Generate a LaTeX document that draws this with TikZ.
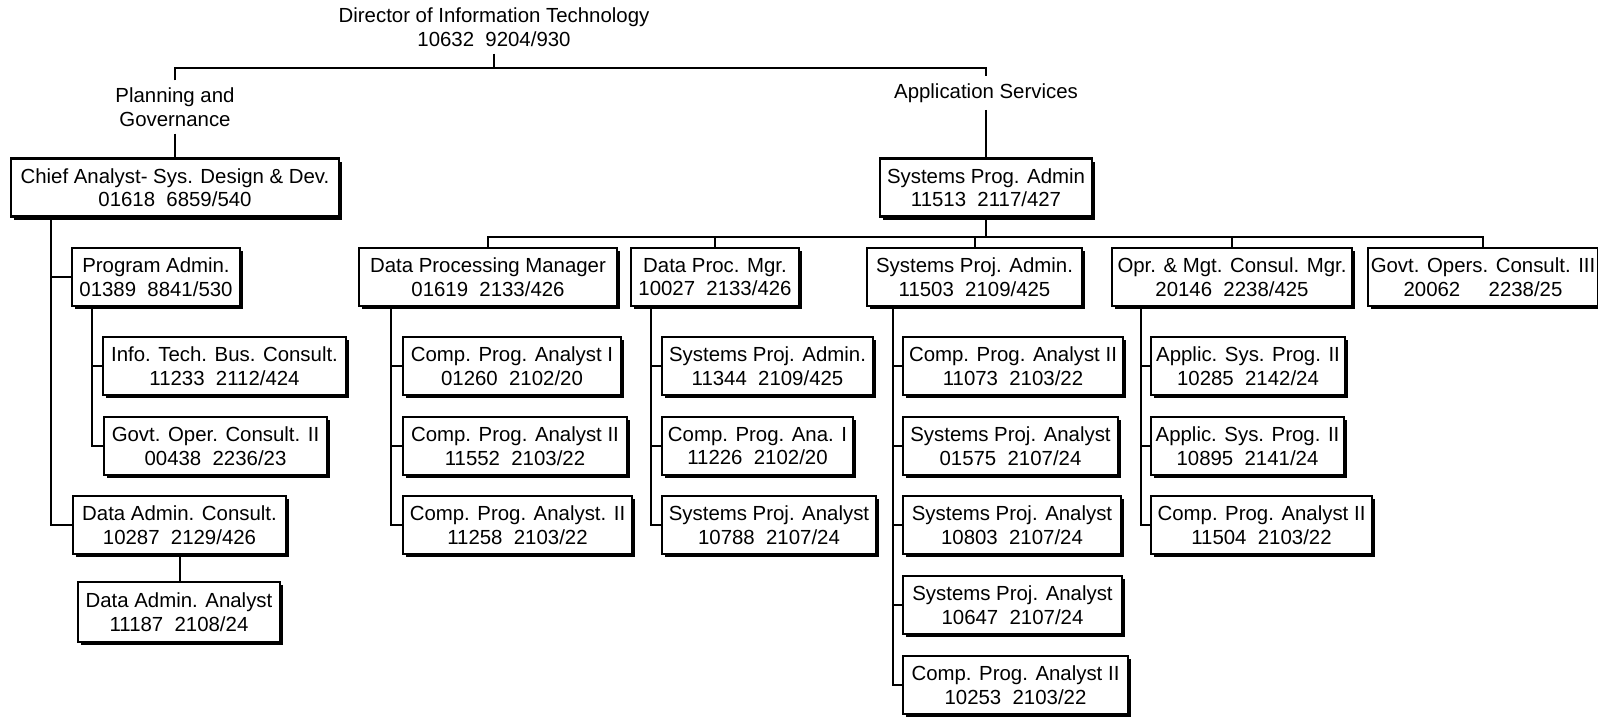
\documentclass[tikz,border=0pt]{standalone}
\usepackage{fontspec}
\setmainfont{Liberation Sans}
\usetikzlibrary{shadows}
\begin{document}
\begin{tikzpicture}[x=0.5pt,y=-0.5pt,
  every node/.style={font=\fontsize{10.2}{11.75}\selectfont, align=center},
  box/.style={draw, line width=1.1pt, fill=white, minimum height=29pt, inner sep=1pt,
    drop shadow={shadow xshift=1.6pt, shadow yshift=-1.6pt, fill=black, opacity=1}},
  lbl/.style={inner sep=3.5pt},
  conn/.style={line width=1pt}]
\useasboundingbox (0,0) rectangle (1598,722);

% top labels
\node[lbl] (dir) at (494,27) {Director of Information Technology\\10632~~9204/930};
\node[lbl] (plan) at (175,107) {Planning and\\Governance};
\node[lbl] (app) at (986,93) {Application Services};

% level 1
\node[box, minimum width=164pt] (chief) at (175,187.5) {Chief Analyst- Sys. Design \& Dev.\\01618~~6859/540};
\node[box, minimum width=106pt] (sysprog) at (986,187.5) {Systems Prog. Admin\\11513~~2117/427};

% level 2
\node[box, minimum width=84pt] (progadm) at (156,277) {Program Admin.\\01389~~8841/530};
\node[box, minimum width=129pt] (dpm) at (488,277) {Data Processing Manager\\01619~~2133/426};
\node[box, minimum width=84pt] (dpmgr) at (715,277) {Data Proc. Mgr.\\10027~~2133/426};
\node[box, minimum width=107.5pt] (spadm) at (974.5,277) {Systems Proj. Admin.\\11503~~2109/425};
\node[box, minimum width=120pt] (opr) at (1232,277) {Opr. \& Mgt. Consul. Mgr.\\20146~~2238/425};
\node[box, minimum width=115pt] (govt) at (1483,277) {Govt. Opers. Consult. III\\20062~~~~~2238/25};

% left column
\node[box, minimum width=121.5pt] (infotech) at (224.5,366) {Info. Tech. Bus. Consult.\\11233~~2112/424};
\node[box, minimum width=111.5pt] (govop) at (215.5,446) {Govt. Oper. Consult. II\\00438~~2236/23};
\node[box, minimum width=106.5pt] (dac) at (179.5,525) {Data Admin. Consult.\\10287~~2129/426};
\node[box, minimum width=101pt, minimum height=30pt] (daa) at (179,612) {Data Admin. Analyst\\11187~~2108/24};

% DPM column
\node[box, minimum width=109pt] (cpa1) at (512,366) {Comp. Prog. Analyst I\\01260~~2102/20};
\node[box, minimum width=112pt] (cpa2) at (515,446) {Comp. Prog. Analyst II\\11552~~2103/22};
\node[box, minimum width=114.5pt] (cpa3) at (517.5,525) {Comp. Prog. Analyst. II\\11258~~2103/22};

% Data Proc Mgr column
\node[box, minimum width=105.5pt] (spadmb) at (767.5,366) {Systems Proj. Admin.\\11344~~2109/425};
\node[box, minimum width=95.5pt] (cpana) at (757.5,446) {Comp. Prog. Ana. I\\11226~~2102/20};
\node[box, minimum width=107pt] (spa) at (769,525) {Systems Proj. Analyst\\10788~~2107/24};

% Systems Proj Admin column
\node[box, minimum width=110pt] (ca) at (1013,366) {Comp. Prog. Analyst II\\11073~~2103/22};
\node[box, minimum width=107.5pt] (sb) at (1010.5,446) {Systems Proj. Analyst\\01575~~2107/24};
\node[box, minimum width=109pt] (sc) at (1012,525) {Systems Proj. Analyst\\10803~~2107/24};
\node[box, minimum width=109.5pt] (sd) at (1012.5,605) {Systems Proj. Analyst\\10647~~2107/24};
\node[box, minimum width=112.5pt] (ce) at (1015.5,685) {Comp. Prog. Analyst II\\10253~~2103/22};

% Opr column
\node[box, minimum width=97pt] (asa) at (1248,366) {Applic. Sys. Prog. II\\10285~~2142/24};
\node[box, minimum width=96.5pt] (asb) at (1247.5,446) {Applic. Sys. Prog. II\\10895~~2141/24};
\node[box, minimum width=110.5pt] (cpc) at (1261.5,525) {Comp. Prog. Analyst II\\11504~~2103/22};

% drop points
\coordinate (bus1) at (0,68);
\coordinate (bus2) at (0,237);
\coordinate (dchief) at ([xshift=20.5pt]chief.south west);
\coordinate (dprog) at ([xshift=10.5pt]progadm.south west);
\coordinate (ddpm) at ([xshift=16.5pt]dpm.south west);
\coordinate (ddpmgr) at ([xshift=10.5pt]dpmgr.south west);
\coordinate (dspadm) at ([xshift=13.5pt]spadm.south west);
\coordinate (dopr) at ([xshift=15pt]opr.south west);

% connectors: top
\draw[conn] (dir.south) -- (dir.south |- bus1);
\draw[conn] (plan.north) -- (plan.north |- bus1) -- (app.north |- bus1) -- (app.north);
\draw[conn] (plan.south) -- (plan.south |- chief.north);
\draw[conn] (app.south) -- (app.south |- sysprog.north);

% level 2 bus
\draw[conn] (sysprog.south) -- (sysprog.south |- bus2);
\draw[conn] (dpm.north) -- (dpm.north |- bus2) -- (govt.north |- bus2) -- (govt.north);
\draw[conn] (dpmgr.north) -- (dpmgr.north |- bus2);
\draw[conn] (spadm.north) -- (spadm.north |- bus2);
\draw[conn] (opr.north) -- (opr.north |- bus2);

% chief
\draw[conn] (dchief) |- (dac.west);
\draw[conn] (progadm.west) -- (progadm.west -| dchief);
\draw[conn] (dprog) |- (govop.west);
\draw[conn] (infotech.west) -- (infotech.west -| dprog);
\draw[conn] (dac.south) -- (dac.south |- daa.north);

% dpm
\draw[conn] (ddpm) |- (cpa3.west);
\draw[conn] (cpa1.west) -- (cpa1.west -| ddpm);
\draw[conn] (cpa2.west) -- (cpa2.west -| ddpm);

% dpmgr
\draw[conn] (ddpmgr) |- (spa.west);
\draw[conn] (spadmb.west) -- (spadmb.west -| ddpmgr);
\draw[conn] (cpana.west) -- (cpana.west -| ddpmgr);

% spadm
\draw[conn] (dspadm) |- (ce.west);
\draw[conn] (ca.west) -- (ca.west -| dspadm);
\draw[conn] (sb.west) -- (sb.west -| dspadm);
\draw[conn] (sc.west) -- (sc.west -| dspadm);
\draw[conn] (sd.west) -- (sd.west -| dspadm);

% opr
\draw[conn] (dopr) |- (cpc.west);
\draw[conn] (asa.west) -- (asa.west -| dopr);
\draw[conn] (asb.west) -- (asb.west -| dopr);
\end{tikzpicture}
\end{document}
